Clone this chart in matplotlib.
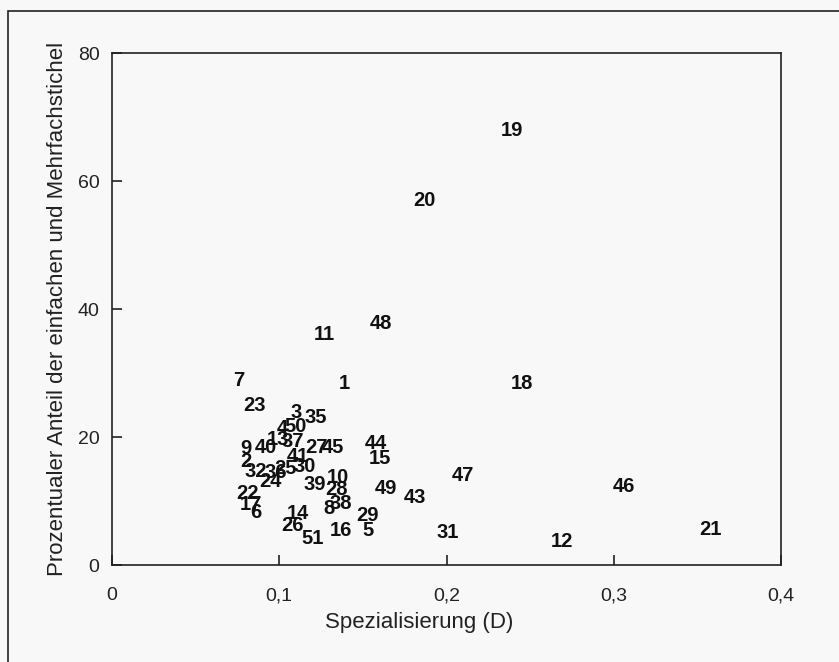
import matplotlib.pyplot as plt
from matplotlib.patches import Rectangle

# Fundstellen-Nummern mit Spezialisierung (D) und Stichel-Anteil (%)
nummern = [19, 20, 48, 11, 7, 1, 18, 23, 3, 35,
           4, 50, 13, 37, 40, 9, 27, 45, 44, 41,
           15, 2, 30, 32, 36, 25, 24, 10, 47, 46,
           39, 28, 49, 43, 22, 17, 6, 38, 8, 14,
           29, 26, 16, 5, 31, 51, 12, 21]
spezialisierung = [0.239, 0.187, 0.161, 0.127, 0.076, 0.139, 0.245, 0.0855, 0.110, 0.122,
                   0.102, 0.110, 0.099, 0.108, 0.092, 0.080, 0.122, 0.132, 0.158, 0.111,
                   0.160, 0.080, 0.115, 0.086, 0.098, 0.104, 0.095, 0.135, 0.210, 0.306,
                   0.121, 0.134, 0.164, 0.181, 0.081, 0.083, 0.086, 0.137, 0.130, 0.111,
                   0.153, 0.108, 0.137, 0.153, 0.201, 0.120, 0.269, 0.358]
anteil_stichel = [67.9, 56.9, 37.7, 36.0, 28.9, 28.3, 28.3, 25.0, 23.9, 23.0,
                  21.3, 21.6, 19.6, 19.3, 18.3, 18.2, 18.3, 18.3, 19.0, 16.9,
                  16.6, 16.2, 15.4, 14.6, 14.4, 15.1, 13.0, 13.7, 14.0, 12.3,
                  12.6, 11.8, 12.0, 10.6, 11.2, 9.5, 8.2, 9.6, 8.9, 8.1,
                  7.8, 6.1, 5.4, 5.4, 5.1, 4.2, 3.6, 5.6]

x_ticks = [0, 0.1, 0.2, 0.3, 0.4]
x_ticklabels = ['0', '0,1', '0,2', '0,3', '0,4']
y_ticks = [0, 20, 40, 60, 80]

plt.rcParams['font.family'] = ['Liberation Sans', 'DejaVu Sans']
ink = '#222222'

fig = plt.figure(figsize=(8.39, 6.62), dpi=100, facecolor='#f8f8f8')
ax = fig.add_axes([112 / 839, 1 - 565 / 662, (781 - 112) / 839, (565 - 53) / 662])
ax.set_facecolor('#f8f8f8')

# Nummern statt Punkte
for n, xv, yv in zip(nummern, spezialisierung, anteil_stichel):
    ax.text(xv, yv, str(n), ha='center', va='center', fontsize=14.5,
            fontweight='bold', color='#111111')

ax.set_xlim(0, 0.4)
ax.set_ylim(0, 80)
ax.set_xticks(x_ticks)
ax.set_xticklabels(x_ticklabels)
ax.set_yticks(y_ticks)
ax.tick_params(direction='in', length=7, width=1.2, colors=ink,
               labelsize=14, pad=9)
ax.tick_params(axis='x', pad=16)
for sp in ax.spines.values():
    sp.set_color(ink)
    sp.set_linewidth(1.2)

ax.set_xlabel('Spezialisierung (D)', fontsize=16, color=ink)
ax.set_ylabel('Prozentualer Anteil der einfachen und Mehrfachstichel',
              fontsize=16, color=ink)
ax.xaxis.set_label_coords(0.459, -0.091)
ax.yaxis.set_label_coords(-0.066, 0.5)

# äußerer Rahmen
fig.patches.append(Rectangle((8 / 839, -0.2), 1.2, 1.2 - 11 / 662,
                             transform=fig.transFigure, fill=False,
                             edgecolor=ink, linewidth=1.2, clip_on=False))

fig.savefig('out.png', dpi=100, facecolor=fig.get_facecolor())
